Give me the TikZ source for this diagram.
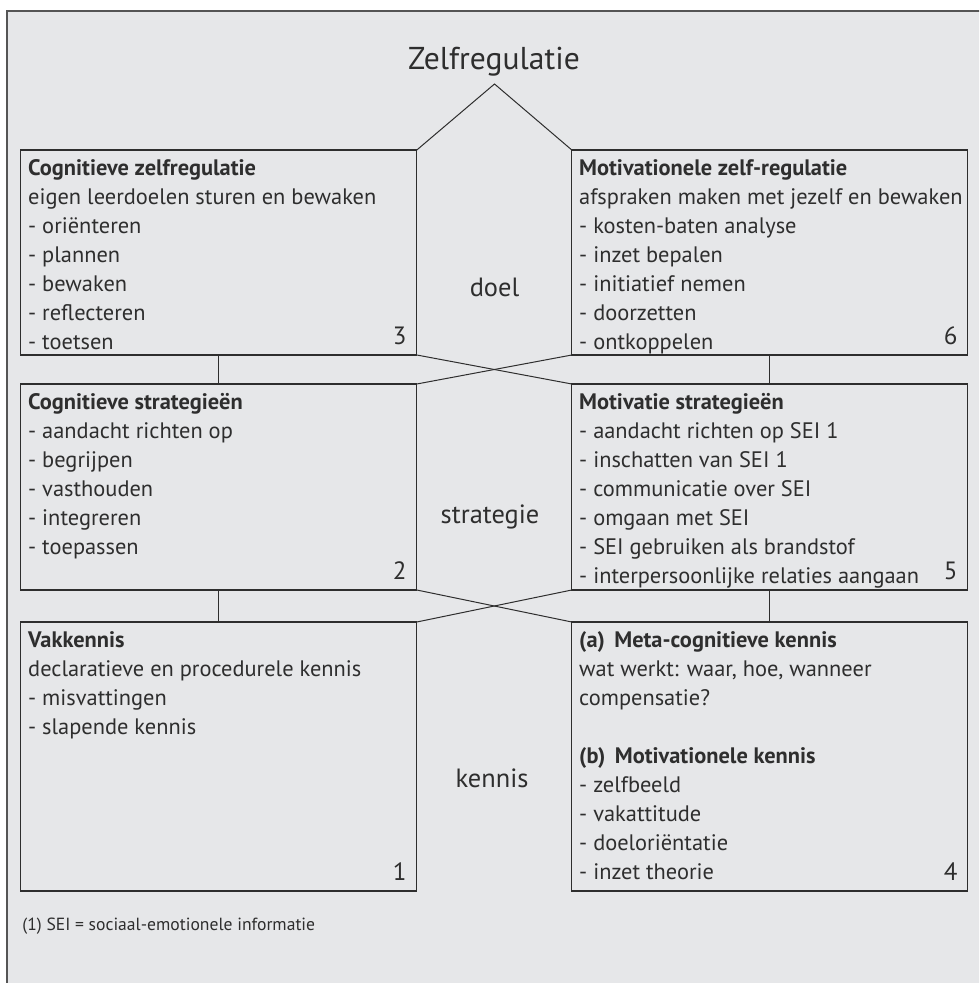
\documentclass[tikz,border=0pt]{standalone}
\usepackage{fontspec}
\setmainfont{PT Sans}
\usepackage{tikz}
\usetikzlibrary{positioning}
\definecolor{paper}{HTML}{E6E7E9}
\definecolor{ink}{HTML}{2E2E2E}
\definecolor{rim}{HTML}{555555}

\begin{document}
\begin{tikzpicture}[x=0.5pt,y=-0.5pt,
  box/.style={draw=ink,line width=0.6pt,minimum width=198pt,outer sep=0pt,inner sep=0pt},
  boxtxt/.style={anchor=north west,align=left,inner sep=0pt,text=ink,
    font=\fontsize{11.2}{14.5}\selectfont},
  nr/.style={anchor=south east,inner sep=0pt,text=ink,font=\fontsize{12.5}{14}\selectfont},
  mid/.style={anchor=base,text=ink,font=\fontsize{13.2}{16}\selectfont},
  link/.style={draw=ink,line width=0.5pt}]
\clip (0,0) rectangle (979,983);
\fill[white] (0,0) rectangle (979,983);
\draw[rim,line width=0.7pt,fill=paper] (7,11) rectangle (1000,1000);

% title and roof
\node[anchor=base,text=ink,font=\fontsize{15.8}{18}\selectfont] (zr) at (494,70) {Zelfregulatie};
\coordinate (top) at (494.5,84);

% boxes
\node[box,minimum height=102.5pt] (cz) at (218.8,252.5) {};
\node[box,minimum height=102.5pt,right=77.5pt of cz] (mz) {};
\node[box,minimum height=103pt,below=14.5pt of cz] (cs) {};
\node[box,minimum height=103pt,below=14.5pt of mz] (ms) {};
\node[box,minimum height=134.5pt,below=16pt of cs] (vk) {};
\node[box,minimum height=134.5pt,below=16pt of ms] (mk) {};

% box texts
\node[boxtxt] (czt) at ([xshift=3.5pt,yshift=-4.5pt]cz.north west)
  {\textbf{Cognitieve zelfregulatie}\\eigen leerdoelen sturen en bewaken\\- oriënteren\\- plannen\\- bewaken\\- reflecteren\\- toetsen};
\node[boxtxt] (mzt) at ([xshift=3.5pt,yshift=-4.5pt]mz.north west)
  {\textbf{Motivationele zelf-regulatie}\\afspraken maken met jezelf en bewaken\\- kosten-baten analyse\\- inzet bepalen\\- initiatief nemen\\- doorzetten\\- ontkoppelen};
\node[boxtxt] (cst) at ([xshift=3.5pt,yshift=-4.5pt]cs.north west)
  {\textbf{Cognitieve strategieën}\\- aandacht richten op\\- begrijpen\\- vasthouden\\- integreren\\- toepassen};
\node[boxtxt] (mst) at ([xshift=3.5pt,yshift=-4.5pt]ms.north west)
  {\textbf{Motivatie strategieën}\\- aandacht richten op SEI 1\\- inschatten van SEI 1\\- communicatie over SEI\\- omgaan met SEI\\- SEI gebruiken als brandstof\\- interpersoonlijke relaties aangaan};
\node[boxtxt] (vkt) at ([xshift=3.5pt,yshift=-4.5pt]vk.north west)
  {\textbf{Vakkennis}\\declaratieve en procedurele kennis\\- misvattingen\\- slapende kennis};
\node[boxtxt] (mkt) at ([xshift=3.5pt,yshift=-4.5pt]mk.north west)
  {\textbf{(a)\, Meta-cognitieve kennis}\\wat werkt: waar, hoe, wanneer\\compensatie?\\[14.5pt]\textbf{(b)\, Motivationele kennis}\\- zelfbeeld\\- vakattitude\\- doeloriëntatie\\- inzet theorie};

% numbers
\node[nr] (n3) at ([xshift=-5pt,yshift=5pt]cz.south east) {3};
\node[nr] (n6) at ([xshift=-5pt,yshift=5pt]mz.south east) {6};
\node[nr] (n2) at ([xshift=-5pt,yshift=5pt]cs.south east) {2};
\node[nr] (n5) at ([xshift=-5pt,yshift=5pt]ms.south east) {5};
\node[nr] (n1) at ([xshift=-5pt,yshift=5pt]vk.south east) {1};
\node[nr] (n4) at ([xshift=-5pt,yshift=5pt]mk.south east) {4};

% levels
\node[mid] (doel) at (494.5,297) {doel};
\node[mid] (strat) at (490,523) {strategie};
\node[mid] (kennis) at (492,787) {kennis};

% connectors
\draw[link] (cz.north east) -- (top) -- (mz.north west);
\draw[link] (cz.south) -- (cs.north);
\draw[link] (mz.south) -- (ms.north);
\draw[link] (cz.south east) -- (ms.north west);
\draw[link] (mz.south west) -- (cs.north east);
\draw[link] (cs.south) -- (vk.north);
\draw[link] (ms.south) -- (mk.north);
\draw[link] (cs.south east) -- (mk.north west);
\draw[link] (ms.south west) -- (vk.north east);

% footnote
\node[anchor=base west,inner sep=0pt,text=ink,font=\fontsize{8.8}{10}\selectfont] (fn) at (22,930)
  {(1) SEI = sociaal-emotionele informatie};
\end{tikzpicture}
\end{document}
